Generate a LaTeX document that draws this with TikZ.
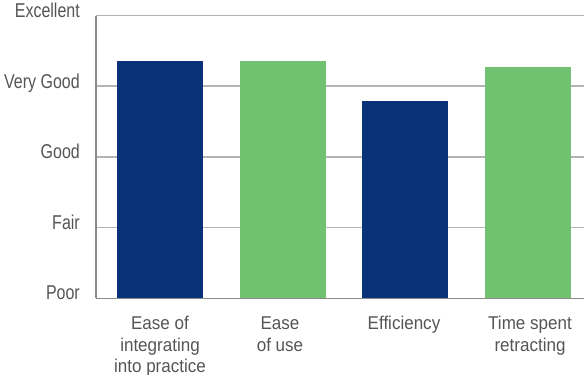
\documentclass[tikz,border=0pt]{standalone}
\usepackage{fontspec}
\setmainfont{Liberation Sans}
\newfontfamily\ylabfont[FakeStretch=0.8]{Liberation Sans}
\newfontfamily\xlabfont[FakeStretch=0.92]{Liberation Sans}
\definecolor{barblue}{HTML}{0A3278}
\definecolor{bargreen}{HTML}{70C170}
\definecolor{txtgray}{HTML}{555555}
\definecolor{gridgray}{HTML}{B4B4B4}
\definecolor{axisgray}{HTML}{8A8A8A}
\tikzset{
  gridline/.style={draw=gridgray, line width=1.5pt},
  axisline/.style={draw=axisgray, line width=1.5pt},
  bluebar/.style={fill=barblue, draw=none},
  greenbar/.style={fill=bargreen, draw=none},
  ylab/.style={anchor=base east, inner sep=0pt, text=txtgray, font=\ylabfont\fontsize{20}{24}\selectfont},
  xlab/.style={anchor=base, inner sep=0pt, align=center, text=txtgray, font=\xlabfont\fontsize{18.5}{21.7}\selectfont},
}
\begin{document}
\begin{tikzpicture}[x=1pt,y=-1pt]
\useasboundingbox (0,0) rectangle (584,375);
% gridlines
\coordinate (g0) at (96,15.5);
\coordinate (g1) at (96,86);
\coordinate (g2) at (96,157);
\coordinate (g3) at (96,227.7);
\coordinate (g4) at (96,298.3);
\coordinate (e0) at (584,15.5);
\coordinate (e1) at (584,86);
\coordinate (e2) at (584,157);
\coordinate (e3) at (584,227.7);
\coordinate (e4) at (584,298.3);
\draw[gridline] (g0) -- (e0);
\draw[gridline] (g1) -- (e1);
\draw[gridline] (g2) -- (e2);
\draw[gridline] (g3) -- (e3);
% bars
\fill[bluebar] (117,61) rectangle (203,298.3);
\fill[greenbar] (240,61) rectangle (326,298.3);
\fill[bluebar] (362,101) rectangle (448,298.3);
\fill[greenbar] (485,66.7) rectangle (571,298.3);
% axes
\draw[axisline] (g0) -- (g4);
\draw[axisline] (g4) -- (e4);
% y labels
\node[ylab] (lex) at (80,17.3) {Excellent};
\node[ylab] (lvg) at (80,88.5) {Very Good};
\node[ylab] (lgo) at (80,158.5) {Good};
\node[ylab] (lfa) at (80,229) {Fair};
\node[ylab] (lpo) at (80,299) {Poor};
% x labels (base anchor = baseline of last line)
\node[xlab] (x1) at (160,372.7) {Ease of\\integrating\\into practice};
\node[xlab] (x2) at (280,351) {Ease\\of use};
\node[xlab] (x3) at (404,329.3) {Efficiency};
\node[xlab] (x4) at (530,351) {Time spent\\retracting};
\end{tikzpicture}
\end{document}
